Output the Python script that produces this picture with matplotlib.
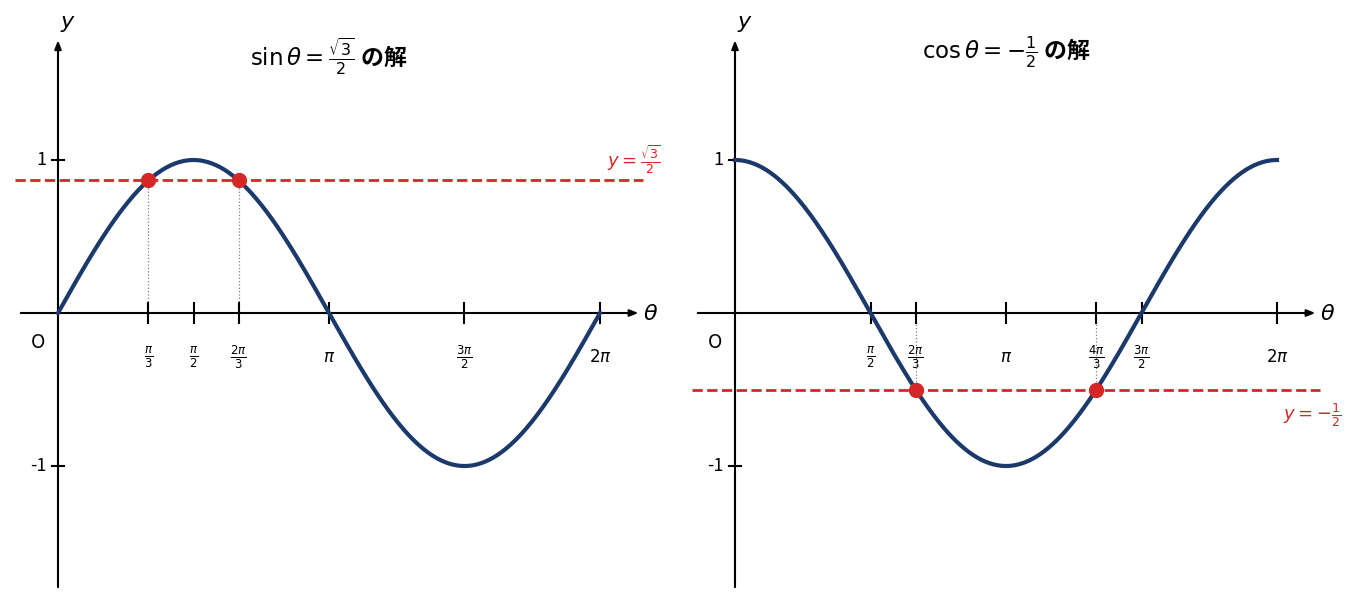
import matplotlib.pyplot as plt
import numpy as np

plt.rcParams['font.family'] = ['Noto Sans CJK JP', 'DejaVu Sans']

navy = '#1b3a6b'
red = '#d62728'

# tick positions and labels (shared by both panels)
sin_ticks = [np.pi / 3, np.pi / 2, 2 * np.pi / 3, np.pi, 3 * np.pi / 2, 2 * np.pi]
sin_labels = [r'$\frac{\pi}{3}$', r'$\frac{\pi}{2}$', r'$\frac{2\pi}{3}$', r'$\pi$', r'$\frac{3\pi}{2}$', r'$2\pi$']
cos_ticks = [np.pi / 2, 2 * np.pi / 3, np.pi, 4 * np.pi / 3, 3 * np.pi / 2, 2 * np.pi]
cos_labels = [r'$\frac{\pi}{2}$', r'$\frac{2\pi}{3}$', r'$\pi$', r'$\frac{4\pi}{3}$', r'$\frac{3\pi}{2}$', r'$2\pi$']

sin_level = np.sqrt(3) / 2
sin_solutions = [np.pi / 3, 2 * np.pi / 3]
cos_level = -0.5
cos_solutions = [2 * np.pi / 3, 4 * np.pi / 3]

theta = np.linspace(0, 2 * np.pi, 400)

W, H = 1355, 611
fig = plt.figure(figsize=(W / 100, H / 100), dpi=100)

xlim = (-0.6, 7.0)
ylim = (-1.94, 2.0)
px_x = 542 / (2 * np.pi)
px_y = 153


def make_ax(origin_px):
    left = origin_px - (0 - xlim[0]) * px_x
    width = (xlim[1] - xlim[0]) * px_x
    top = 313 - ylim[1] * px_y
    height = (ylim[1] - ylim[0]) * px_y
    ax = fig.add_axes([left / W, 1 - (top + height) / H, width / W, height / H])
    ax.set_xlim(*xlim)
    ax.set_ylim(*ylim)
    ax.axis('off')
    return ax


def draw_axes(ax, ticks, labels):
    ax.annotate('', xy=(6.76, 0), xytext=(-0.464, 0),
                arrowprops=dict(arrowstyle='-|>,head_length=0.5,head_width=0.2', color='black', lw=1.5))
    ax.annotate('', xy=(0, 1.8), xytext=(0, -1.81),
                arrowprops=dict(arrowstyle='-|>,head_length=0.5,head_width=0.2', color='black', lw=1.5),
                annotation_clip=False)
    ax.text(6.78, 0, r'$\theta$', fontsize=16, va='center', ha='left')
    ax.text(0.12, 1.9, r'$y$', fontsize=16, va='center', ha='center')
    ax.text(-0.23, -0.19, 'O', fontsize=14, va='center', ha='center')
    for t, lab in zip(ticks, labels):
        ax.plot([t, t], [-0.065, 0.065], color='black', lw=1.5)
        ax.text(t, -0.29, lab, fontsize=12, ha='center', va='center')
    for v in [1, -1]:
        ax.plot([-0.07, 0.07], [v, v], color='black', lw=1.5)
        ax.text(-0.13, v, str(v), fontsize=13, ha='right', va='center')


# left: sin
ax1 = make_ax(58)
draw_axes(ax1, sin_ticks, sin_labels)
ax1.plot(theta, np.sin(theta), color=navy, lw=3, zorder=3)
ax1.plot([-0.5, 6.78], [sin_level, sin_level], color=red, lw=2, ls='--', zorder=2)
for s in sin_solutions:
    ax1.plot([s, s], [0.05, sin_level], color='gray', lw=0.9, ls=':', zorder=1)
    ax1.plot(s, sin_level, 'o', color=red, markersize=10, zorder=4)
ax1.text(6.67, 1.0, r'$y=\frac{\sqrt{3}}{2}$', color=red, fontsize=13, ha='center', va='center')
ax1.text(np.pi, 1.68, r'$\sin\theta=\frac{\sqrt{3}}{2}$ の解', fontsize=16.5, fontweight='bold',
         ha='center', va='center')

# right: cos
ax2 = make_ax(735)
draw_axes(ax2, cos_ticks, cos_labels)
ax2.plot(theta, np.cos(theta), color=navy, lw=3, zorder=3)
ax2.plot([-0.5, 6.78], [cos_level, cos_level], color=red, lw=2, ls='--', zorder=2)
for s in cos_solutions:
    ax2.plot([s, s], [-0.05, cos_level], color='gray', lw=0.9, ls=':', zorder=1)
    ax2.plot(s, cos_level, 'o', color=red, markersize=10, zorder=4)
ax2.text(6.69, -0.67, r'$y=-\frac{1}{2}$', color=red, fontsize=13, ha='center', va='center',
         clip_on=False)
ax2.text(np.pi, 1.70, r'$\cos\theta=-\frac{1}{2}$ の解', fontsize=16.5, fontweight='bold',
         ha='center', va='center')

fig.savefig('out.png', dpi=100)
